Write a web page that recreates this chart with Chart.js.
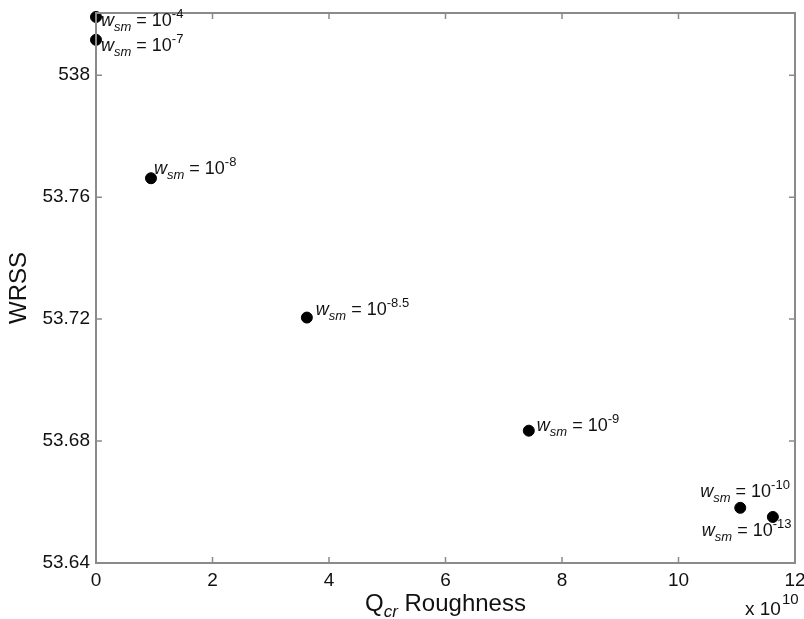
<!DOCTYPE html>
<html>
<head>
<meta charset="utf-8">
<script src="https://cdn.jsdelivr.net/npm/chart.js@4"></script>
<style>
  body { margin: 0; background: #fff; }
  canvas { display: block; }
</style>
</head>
<body>
<canvas id="grafico" width="804" height="619"></canvas>
<script>
// valores (Qcr em unidades de 10^10)
const qcrRoughness = [0, 0, 0.944, 3.62, 7.43, 11.06, 11.62];
const wrss = [53.8191, 53.8116, 53.7662, 53.7205, 53.6834, 53.6581, 53.6551];
const wsmExpoentes = ['-4', '-7', '-8', '-8.5', '-9', '-10', '-13'];

const xTicks = [0, 2, 4, 6, 8, 10, 12];
const yTicks = [53.64, 53.68, 53.72, 53.76, 53.80];
const yTickLabels = ['53.64', '53.68', '53.72', '53.76', '538'];

// deslocamento de cada rotulo em relacao ao ponto (estilo)
const offsetsRotulos = [[5, 9], [5, 11], [3, -4], [9, -3], [8, 0], [-40, -11], [-71, 19]];

const fonte = '"Liberation Sans", Arial, sans-serif';
const corEixo = '#8a8a8a';

function desenharWsm(ctx, x, y, expoente) {
    ctx.fillStyle = '#111';
    ctx.textAlign = 'left';
    ctx.textBaseline = 'alphabetic';
    ctx.font = 'italic 18px ' + fonte;
    ctx.fillText('w', x, y);
    x += ctx.measureText('w').width;
    ctx.font = 'italic 13px ' + fonte;
    ctx.fillText('sm', x, y + 5);
    x += ctx.measureText('sm').width;
    ctx.font = '18px ' + fonte;
    ctx.fillText(' = 10', x, y);
    x += ctx.measureText(' = 10').width;
    ctx.font = '13px ' + fonte;
    ctx.fillText(expoente, x, y - 8);
}

const molduraPlugin = {
    id: 'moldura',
    afterDatasetsDraw(chart) {
        const ctx = chart.ctx;
        const area = chart.chartArea;
        const sx = chart.scales.x;
        const sy = chart.scales.y;
        ctx.save();

        // caixa e marcas para dentro
        ctx.strokeStyle = corEixo;
        ctx.lineWidth = 2;
        ctx.strokeRect(area.left, area.top, area.right - area.left, area.bottom - area.top);
        ctx.lineWidth = 1.5;
        ctx.beginPath();
        xTicks.forEach(v => {
            const px = sx.getPixelForValue(v);
            ctx.moveTo(px, area.bottom); ctx.lineTo(px, area.bottom - 6);
            ctx.moveTo(px, area.top); ctx.lineTo(px, area.top + 6);
        });
        yTicks.forEach(v => {
            const py = sy.getPixelForValue(v);
            ctx.moveTo(area.left, py); ctx.lineTo(area.left + 6, py);
            ctx.moveTo(area.right, py); ctx.lineTo(area.right - 6, py);
        });
        ctx.stroke();

        // rotulos dos pontos
        for (let i = 0; i < qcrRoughness.length; i++) {
            const px = sx.getPixelForValue(qcrRoughness[i]);
            const py = sy.getPixelForValue(wrss[i]);
            desenharWsm(ctx, px + offsetsRotulos[i][0], py + offsetsRotulos[i][1], wsmExpoentes[i]);
        }

        // titulo do eixo y
        ctx.fillStyle = '#111';
        ctx.save();
        ctx.translate(19, (area.top + area.bottom) / 2);
        ctx.rotate(-Math.PI / 2);
        ctx.font = '24px ' + fonte;
        ctx.textAlign = 'center';
        ctx.textBaseline = 'middle';
        ctx.fillText('WRSS', 0, 0);
        ctx.restore();

        // titulo do eixo x: Qcr Roughness
        ctx.textAlign = 'left';
        ctx.textBaseline = 'alphabetic';
        ctx.font = '24px ' + fonte;
        const wQ = ctx.measureText('Q').width;
        const wR = ctx.measureText(' Roughness').width;
        ctx.font = 'italic 17px ' + fonte;
        const wCr = ctx.measureText('cr').width;
        let x = (area.left + area.right) / 2 - (wQ + wCr + wR) / 2;
        const base = 611;
        ctx.font = '24px ' + fonte;
        ctx.fillText('Q', x, base);
        x += wQ;
        ctx.font = 'italic 17px ' + fonte;
        ctx.fillText('cr', x, base + 6);
        x += wCr;
        ctx.font = '24px ' + fonte;
        ctx.fillText(' Roughness', x, base);

        // multiplicador x 10^10
        ctx.font = '19px ' + fonte;
        ctx.fillText('x 10', 745, 615);
        const wx = ctx.measureText('x 10').width;
        ctx.font = '15px ' + fonte;
        ctx.fillText('10', 745 + wx + 1, 604);

        ctx.restore();
    }
};

new Chart(document.getElementById('grafico'), {
    type: 'scatter',
    data: {
        datasets: [{
            data: qcrRoughness.map((q, i) => ({ x: q, y: wrss[i] })),
            backgroundColor: '#000',
            borderColor: '#000',
            pointRadius: 5.5,
            pointHoverRadius: 5.5,
            clip: false
        }]
    },
    options: {
        responsive: false,
        animation: false,
        events: [],
        layout: { padding: { left: 0, right: 9, top: 13, bottom: 0 } },
        plugins: {
            legend: { display: false },
            tooltip: { enabled: false }
        },
        scales: {
            x: {
                type: 'linear',
                min: 0,
                max: 12,
                grid: { display: false, drawTicks: false, tickLength: 0 },
                border: { display: false },
                afterBuildTicks: s => { s.ticks = xTicks.map(v => ({ value: v })); },
                afterFit: s => { s.height = 56; s.paddingLeft = 0; s.paddingRight = 0; },
                ticks: {
                    autoSkip: false,
                    maxRotation: 0,
                    padding: 6,
                    color: '#111',
                    font: { family: fonte, size: 19 },
                    callback: v => String(v)
                }
            },
            y: {
                type: 'linear',
                min: 53.64,
                max: 53.8204,
                grid: { display: false, drawTicks: false, tickLength: 0 },
                border: { display: false },
                afterBuildTicks: s => { s.ticks = yTicks.map(v => ({ value: v })); },
                afterFit: s => { s.width = 96; s.paddingTop = 0; s.paddingBottom = 0; },
                ticks: {
                    autoSkip: false,
                    padding: 6,
                    color: '#111',
                    font: { family: fonte, size: 19 },
                    callback: (v, i) => yTickLabels[i]
                }
            }
        }
    },
    plugins: [molduraPlugin]
});
</script>
</body>
</html>
